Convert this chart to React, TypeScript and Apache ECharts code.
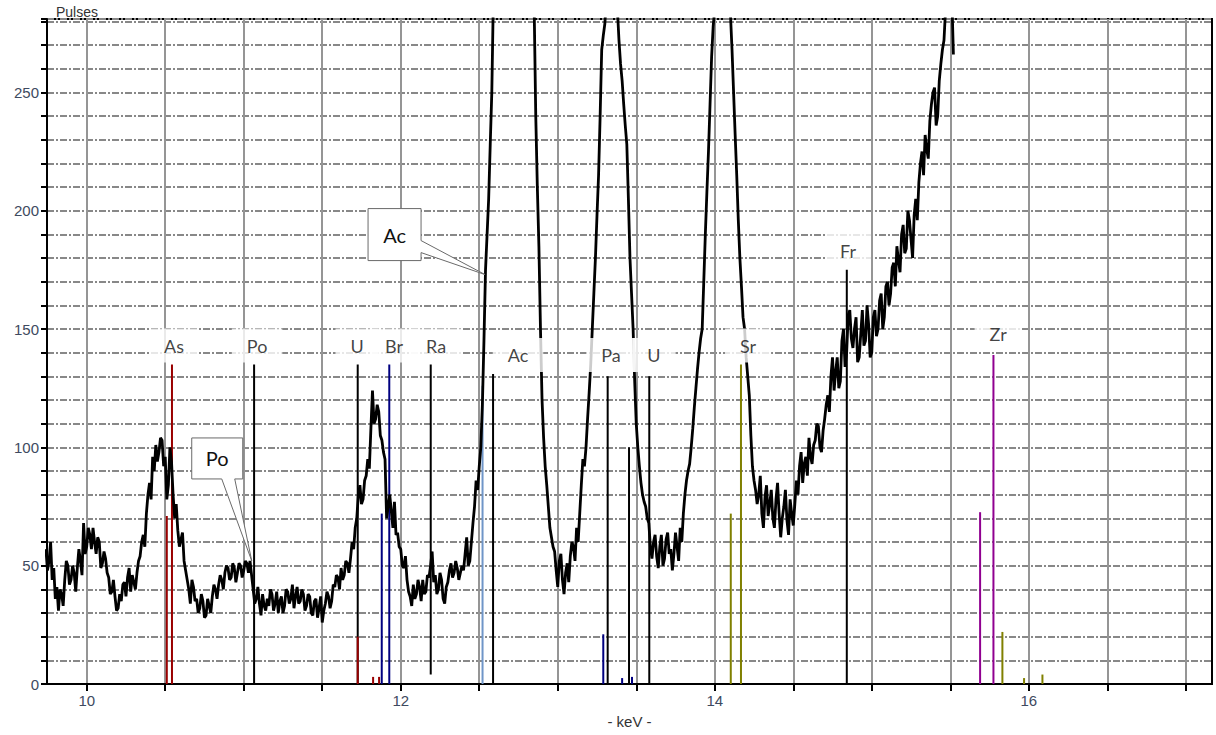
import React, { useEffect, useRef } from 'react';
import * as echarts from 'echarts';

// Spectrum: channel energies start at E0 with STEP keV per channel
const E0 = 9.74;
const STEP = 0.01;
const counts = [
  57, 48, 52, 60, 44, 49, 36, 41, 31, 40, 38, 33, 44, 52, 50, 42, 44, 50, 47, 39, 49, 57, 52, 46, 68, 55, 58, 66, 63, 57, 66, 60, 55, 62, 60, 49, 51, 56, 53, 47,
  45, 38, 39, 44, 37, 31, 32, 38, 35, 42, 43, 37, 45, 49, 39, 46, 43, 40, 47, 52, 54, 60, 63, 58, 72, 80, 85, 78, 96, 90, 101, 94, 98, 104, 103, 92, 96, 78, 84, 100,
  94, 80, 70, 76, 65, 58, 61, 64, 52, 48, 44, 40, 34, 44, 41, 35, 36, 30, 32, 38, 35, 28, 29, 36, 33, 30, 37, 42, 40, 36, 42, 46, 44, 40, 47, 50, 49, 44, 45, 51,
  49, 43, 47, 51, 50, 45, 48, 52, 51, 47, 52, 46, 40, 34, 36, 41, 34, 29, 38, 33, 31, 36, 33, 40, 38, 31, 34, 39, 30, 35, 37, 30, 33, 40, 39, 34, 36, 42, 32, 37,
  41, 34, 35, 40, 38, 31, 33, 38, 37, 30, 29, 35, 36, 28, 32, 37, 26, 31, 34, 39, 37, 32, 35, 42, 41, 46, 45, 40, 49, 44, 46, 52, 51, 47, 53, 60, 57, 66, 70, 80,
  84, 76, 78, 86, 88, 95, 91, 108, 124, 110, 112, 118, 115, 105, 103, 98, 95, 70, 75, 80, 73, 66, 77, 63, 64, 58, 57, 50, 49, 54, 44, 39, 37, 33, 42, 36, 38, 44, 41, 35,
  44, 38, 39, 46, 45, 50, 56, 43, 46, 38, 40, 47, 44, 36, 34, 41, 43, 48, 51, 45, 47, 52, 49, 44, 47, 50, 48, 55, 62, 50, 52, 60, 68, 75, 86, 82, 92, 100, 118, 145,
  175, 190, 205, 228, 250, 290, 330, 375, 420, 470, 520, 560, 600, 625, 650, 665, 680, 685, 690, 680, 670, 650, 630, 600, 570, 535, 500, 460, 420, 375, 330, 285, 240, 210, 185, 150, 120, 104, 92, 84,
  75, 66, 62, 58, 56, 48, 41, 52, 55, 44, 38, 47, 51, 43, 54, 60, 58, 52, 66, 60, 72, 84, 95, 92, 100, 112, 123, 135, 150, 165, 180, 198, 215, 240, 268, 274, 279, 290, 310, 325,
  340, 335, 320, 300, 285, 272, 262, 255, 245, 236, 228, 205, 180, 165, 150, 128, 110, 100, 92, 85, 80, 77, 75, 70, 68, 58, 53, 60, 63, 54, 49, 58, 63, 50, 53, 61, 64, 55, 57, 48,
  55, 64, 58, 52, 66, 60, 72, 80, 86, 90, 93, 100, 108, 117, 125, 133, 140, 146, 150, 170, 190, 208, 225, 245, 265, 278, 285, 300, 320, 340, 360, 355, 340, 320, 300, 290, 283, 268, 250, 232,
  215, 196, 180, 168, 155, 150, 138, 130, 122, 105, 92, 86, 82, 76, 80, 88, 72, 66, 79, 84, 71, 76, 82, 70, 66, 78, 85, 72, 62, 70, 75, 82, 69, 63, 78, 72, 67, 76, 86, 80,
  92, 98, 85, 93, 96, 88, 104, 96, 93, 101, 103, 110, 109, 100, 98, 107, 112, 118, 122, 115, 130, 138, 124, 132, 138, 125, 128, 145, 150, 134, 140, 156, 158, 146, 142, 150, 155, 136, 138, 148,
  158, 143, 145, 160, 152, 138, 140, 155, 158, 147, 150, 162, 165, 150, 155, 168, 170, 160, 165, 176, 178, 168, 185, 179, 174, 190, 194, 182, 184, 200, 196, 188, 180, 198, 205, 196, 212, 220, 225, 215,
  232, 226, 222, 238, 245, 250, 252, 236, 240, 255, 262, 268, 272, 285, 295, 300, 300, 290, 266
];

const xTickValues = [10, 10.5, 11, 11.5, 12, 12.5, 13, 13.5, 14, 14.5, 15, 15.5, 16, 16.5, 17];
const xLabelValues = [10, 12, 14, 16];

// Element marker lines
const markerEnergy = [10.51, 10.543, 11.066, 11.726, 11.726, 11.824, 11.862, 11.879, 11.927, 12.191, 12.521, 12.588, 13.29, 13.318, 13.41, 13.454, 13.473, 13.583, 14.102, 14.167, 14.841, 15.69, 15.775, 15.832, 15.97, 16.087];
const markerBase = [0, 0, 0, 0, 0, 0, 0, 0, 0, 4, 0, 0, 0, 0, 0, 0, 0, 0, 0, 0, 0, 0, 0, 0, 0, 0];
const markerTop = [71, 135, 135, 135, 20, 3, 3, 72, 135, 135, 126, 131, 21, 130, 2.5, 100, 3, 130, 72, 135, 175, 72.6, 139, 22, 2.5, 4];
const markerColor = ['#990000', '#990000', '#000000', '#000000', '#990000', '#990000', '#990000', '#000080', '#000080', '#000000', '#6f95c8', '#000000', '#000080', '#000000', '#000080', '#000000', '#000080', '#000000', '#808000', '#808000', '#000000', '#900090', '#900090', '#808000', '#808000', '#808000'];

// Element labels
const labelText = ['As', 'Po', 'U', 'Br', 'Ra', 'Ac', 'Pa', 'U', 'Sr', 'Fr', 'Zr'];
const labelEnergy = [10.556, 11.085, 11.722, 11.957, 12.225, 12.747, 13.339, 13.613, 14.212, 14.849, 15.805];
const labelValue = [143, 143, 143, 143, 143, 139, 139, 139, 143, 183, 148];

// Callouts
const calloutText = ['Ac', 'Po'];
const calloutEnergy = [12.537, 11.051];
const calloutValue = [173, 52];

export default function App() {
  const ref = useRef<HTMLDivElement>(null);
  useEffect(() => {
    if (!ref.current) return;
    const chart = echarts.init(ref.current, undefined, { renderer: 'svg' });
    const axisColor = '#3e4a60';
    const markerSeries = markerEnergy.map((e, i) => ({
      type: 'line',
      data: [[e, markerBase[i]], [e, markerTop[i]]],
      symbol: 'none',
      silent: true,
      lineStyle: { color: markerColor[i], width: 2 },
      z: 2,
    }));
    chart.setOption({
      animation: false,
      title: {
        text: 'Pulses',
        left: 51,
        top: 0,
        textStyle: { fontSize: 14, fontWeight: 'normal', fontFamily: 'Liberation Sans', color: '#333' },
      },
      grid: { left: 47, right: 4, top: 19, bottom: 51, show: true, borderColor: '#000', borderWidth: 2, backgroundColor: '#fff' },
      xAxis: {
        type: 'value',
        min: 9.747,
        max: 17.167,
        name: '- keV -',
        nameLocation: 'middle',
        nameGap: 30,
        nameTextStyle: { fontSize: 15, fontFamily: 'Liberation Sans', color: '#333' },
        axisLine: { show: true, lineStyle: { color: '#000', width: 2 } },
        axisTick: { show: true, customValues: xTickValues, length: 7, lineStyle: { color: '#000', width: 2 } },
        axisLabel: { customValues: xLabelValues, color: axisColor, fontSize: 15, fontFamily: 'Liberation Sans', margin: 9 },
        splitLine: { show: true, lineStyle: { color: '#959595', width: 2 } },
      },
      yAxis: {
        type: 'value',
        min: 0,
        max: 281,
        interval: 10,
        axisLine: { show: true, lineStyle: { color: '#000', width: 2 } },
        axisTick: { show: true, length: 6, lineStyle: { color: '#000', width: 2 } },
        axisLabel: {
          color: axisColor,
          fontSize: 15,
          fontFamily: 'Liberation Sans',
          margin: 8,
          formatter: (v: number) => (v % 50 === 0 ? String(v) : ''),
        },
        splitLine: { show: true, lineStyle: { color: '#888', width: 2, type: [7, 2, 2, 2] } },
      },
      series: [
        ...markerSeries,
        {
          type: 'line',
          data: counts.map((c, i) => [E0 + i * STEP, c]),
          symbol: 'none',
          clip: true,
          silent: true,
          lineStyle: { color: '#000', width: 2.8 },
          z: 3,
        },
        {
          type: 'scatter',
          symbolSize: 0,
          silent: true,
          z: 5,
          data: labelEnergy.map((e, i) => ({ value: [e, labelValue[i]], label: { formatter: labelText[i] } })),
          label: {
            show: true,
            position: 'inside',
            fontFamily: 'Lato',
            fontSize: 18,
            color: '#111',
            backgroundColor: '#fff',
            padding: [8, 15],
          },
        },
      ],
    });

    const graphics: any[] = [];
    calloutText.forEach((t, i) => {
      const p = chart.convertToPixel({ gridIndex: 0 }, [calloutEnergy[i], calloutValue[i]]) as number[];
      const [tx, ty] = p;
      let pts: number[][];
      let cx: number, cy: number;
      if (i === 0) {
        const l = tx - 117, r = tx - 64, tp = ty - 66, b = ty - 14;
        pts = [[l, tp], [r, tp], [r, ty - 34], [tx, ty], [r, ty - 22], [r, b], [l, b]];
        cx = (l + r) / 2; cy = (tp + b) / 2;
      } else {
        const l = tx - 60, r = tx - 9, tp = ty - 123, b = ty - 82;
        pts = [[l, tp], [r, tp], [r, b], [tx - 17, b], [tx, ty], [tx - 30, b], [l, b]];
        cx = (l + r) / 2; cy = (tp + b) / 2;
      }
      graphics.push({
        type: 'polygon',
        shape: { points: pts },
        style: { fill: '#fff', stroke: '#6a6a6a', lineWidth: 1 },
        z: 100,
      });
      graphics.push({
        type: 'text',
        x: cx,
        y: cy,
        style: { text: t, fontSize: 20, fontFamily: 'Lato', fill: '#111', align: 'center', verticalAlign: 'middle' },
        z: 101,
      });
    });
    chart.setOption({ graphic: graphics });

    return () => chart.dispose();
  }, []);
  return <div ref={ref} style={{ position: 'absolute', left: 0, top: 0, width: 1216, height: 735 }} />;
}
